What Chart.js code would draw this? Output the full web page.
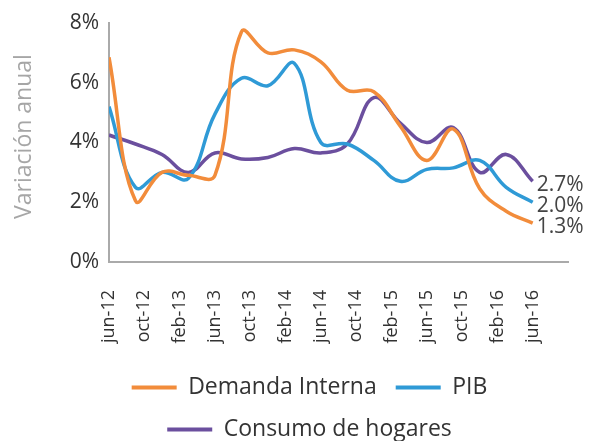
<!DOCTYPE html>
<html>
<head>
<meta charset="utf-8">
<script src="https://cdn.jsdelivr.net/npm/chart.js@4"></script>
<style>
  html, body { margin: 0; padding: 0; background: #fff; overflow: hidden; }
  #wrap { width: 589px; height: 441px; }
</style>
</head>
<body>
<div id="wrap"><canvas id="chart" width="589" height="441"></canvas></div>
<script>
// trimestres, jun-12 .. jun-16
var quarters = ['jun-12', 'sep-12', 'dic-12', 'mar-13', 'jun-13', 'sep-13', 'dic-13', 'mar-14', 'jun-14',
  'sep-14', 'dic-14', 'mar-15', 'jun-15', 'sep-15', 'dic-15', 'mar-16', 'jun-16'];
var tickLabels = ['jun-12', 'oct-12', 'feb-13', 'jun-13', 'oct-13', 'feb-14', 'jun-14', 'oct-14',
  'feb-15', 'jun-15', 'oct-15', 'feb-16', 'jun-16'];

var demandaInterna = [6.85, 2.05, 3.0, 2.9, 2.9, 7.7, 7.0, 7.1, 6.7, 5.75, 5.7, 4.55, 3.4, 4.45, 2.45, 1.7, 1.3];
var pib = [5.2, 2.5, 3.0, 2.8, 4.95, 6.15, 5.9, 6.65, 4.0, 3.95, 3.4, 2.7, 3.1, 3.15, 3.4, 2.5, 2.0];
var consumoHogares = [4.25, 3.95, 3.6, 3.0, 3.65, 3.45, 3.5, 3.8, 3.65, 3.95, 5.5, 4.65, 4.0, 4.5, 3.0, 3.6, 2.7];

var FONT = '"Open Sans", sans-serif';

function points(values) {
  var out = [];
  for (var i = 0; i < values.length; i++) {
    out.push({ x: i * 3, y: values[i] }); // un trimestre = 3 meses en el eje
  }
  return out;
}

function series(label, values, color) {
  return {
    label: label,
    data: points(values),
    borderColor: color,
    backgroundColor: color,
    borderWidth: 3.5,
    pointRadius: 0,
    tension: 0.4,
    fill: false
  };
}

// etiquetas con el último valor al final de cada línea
var endLabels = {
  id: 'endLabels',
  afterDatasetsDraw: function (chart) {
    var ctx = chart.ctx;
    ctx.save();
    ctx.font = '21px ' + FONT;
    ctx.fillStyle = '#444';
    ctx.textAlign = 'left';
    ctx.textBaseline = 'middle';
    chart.data.datasets.forEach(function (ds, i) {
      var meta = chart.getDatasetMeta(i);
      var last = meta.data[meta.data.length - 1];
      var v = ds.data[ds.data.length - 1].y;
      ctx.fillText(v.toFixed(1) + '%', last.x + 4, last.y + 4);
    });
    ctx.restore();
  }
};

// mueve la leyenda un poco a la derecha, como en el original
var legendShift = {
  id: 'legendShift',
  afterLayout: function (chart) {
    var lg = chart.legend;
    lg.left += 20;
    lg.right += 20;
    lg.top += 3;
    lg.bottom += 3;
  }
};

new Chart(document.getElementById('chart').getContext('2d'), {
  type: 'line',
  data: {
    datasets: [
      series('Demanda Interna', demandaInterna, '#f28c3b'),
      series('PIB', pib, '#2f9ad6'),
      series('Consumo de hogares', consumoHogares, '#6b4f9e')
    ]
  },
  plugins: [endLabels, legendShift],
  options: {
    responsive: false,
    animation: false,
    layout: { padding: { top: 23, right: 21, bottom: -7, left: 11 } },
    plugins: {
      tooltip: { enabled: false },
      legend: {
        position: 'bottom',
        labels: {
          color: '#333',
          font: { family: FONT, size: 23 },
          boxWidth: 45,
          boxHeight: 4,
          padding: 19,
          generateLabels: function (chart) {
            var items = Chart.defaults.plugins.legend.labels.generateLabels(chart);
            items.forEach(function (it) { it.lineWidth = 0; });
            return items;
          }
        }
      }
    },
    scales: {
      x: {
        type: 'linear',
        min: 0,
        max: 52,
        grid: { display: false },
        border: { display: true, color: '#aaa', width: 2 },
        afterFit: function (scale) {
          scale.height = 92;
          scale.paddingLeft = 0;
          scale.paddingRight = 0;
        },
        ticks: {
          stepSize: 4,
          autoSkip: false,
          maxRotation: 90,
          minRotation: 90,
          padding: 20,
          color: '#333',
          font: { family: FONT, size: 18 },
          callback: function (value) {
            var idx = value / 4;
            return tickLabels[idx] !== undefined ? tickLabels[idx] : '';
          }
        }
      },
      y: {
        min: 0,
        max: 8,
        grid: { display: false },
        border: { display: true, color: '#aaa', width: 2 },
        afterFit: function (scale) { scale.width = 98; },
        ticks: {
          stepSize: 2,
          padding: 2,
          color: '#333',
          font: { family: FONT, size: 21 },
          callback: function (value) { return value + '%'; }
        },
        title: {
          display: true,
          text: '  Variación anual',
          color: '#a6a6a6',
          font: { family: FONT, size: 23 },
          padding: 0
        }
      }
    }
  }
});
</script>
</body>
</html>
